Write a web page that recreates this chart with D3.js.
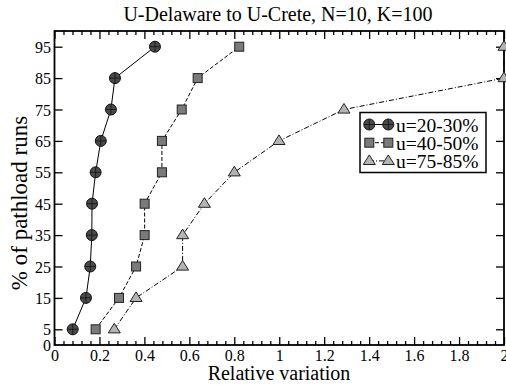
<!DOCTYPE html>
<html><head><meta charset="utf-8">
<script src="https://cdn.jsdelivr.net/npm/d3@7"></script>
<style>
html,body{margin:0;padding:0;background:#fff;}
</style></head>
<body>
<svg id="c" width="506" height="385"></svg>
<script>
const percentiles = [5, 15, 25, 35, 45, 55, 65, 75, 85, 95];
const seriesNames = ["u=20-30%", "u=40-50%", "u=75-85%"];
const u20_30 = [0.081, 0.140, 0.159, 0.166, 0.167, 0.183, 0.206, 0.251, 0.269, 0.447];
const u40_50 = [0.183, 0.287, 0.363, 0.401, 0.401, 0.478, 0.478, 0.566, 0.637, 0.822];
const u75_85 = [0.266, 0.363, 0.570, 0.570, 0.667, 0.800, 0.999, 1.288, 2.0, 2.0];
const xTickLabels = ["0", "0.2", "0.4", "0.6", "0.8", "1", "1.2", "1.4", "1.6", "1.8", "2"];
const yTickLabels = ["0", "5", "15", "25", "35", "45", "55", "65", "75", "85", "95"];

const FONT = "'Liberation Serif'";
const svg = d3.select("#c");
const L = 54.5, R = 504, T = 31, B = 345;
const x = d3.scaleLinear().domain([0, 2]).range([L, R]);
const y = d3.scaleLinear().domain([0, 100]).range([B, T]);

// title
svg.append("text").attr("x", 278).attr("y", 20.5).attr("text-anchor", "middle")
  .style("font-family", FONT).style("font-size", "20px").text("U-Delaware to U-Crete, N=10, K=100");

// axes ticks
const xMajor = xTickLabels.map(Number);
const xMinor = d3.range(0, 2.0001, 0.04).filter(v => Math.abs(Math.round(v * 5) - v * 5) > 1e-6);
const yMajor = yTickLabels.map(Number).filter(v => v > 0);

const gB = svg.append("g").attr("transform", `translate(0,${B})`)
  .call(d3.axisBottom(x).tickValues(xMajor).tickSizeInner(-8).tickSizeOuter(0).tickPadding(5)
    .tickFormat((d, i) => xTickLabels[i]));
const gBm = svg.append("g").attr("transform", `translate(0,${B})`)
  .call(d3.axisBottom(x).tickValues(xMinor).tickSizeInner(-4).tickSizeOuter(0).tickFormat(""));
const gT = svg.append("g").attr("transform", `translate(0,${T})`)
  .call(d3.axisTop(x).tickValues(xMajor).tickSizeInner(-8).tickSizeOuter(0).tickFormat(""));
const gTm = svg.append("g").attr("transform", `translate(0,${T})`)
  .call(d3.axisTop(x).tickValues(xMinor).tickSizeInner(-4).tickSizeOuter(0).tickFormat(""));
const gL = svg.append("g").attr("transform", `translate(${L},0)`)
  .call(d3.axisLeft(y).tickValues(yTickLabels.map(Number)).tickSizeInner(-8).tickSizeOuter(0).tickPadding(3.5)
    .tickFormat((d, i) => yTickLabels[i]));
const gR = svg.append("g").attr("transform", `translate(${R},0)`)
  .call(d3.axisRight(y).tickValues(yMajor).tickSizeInner(-8).tickSizeOuter(0).tickFormat(""));

[gB, gBm, gT, gTm, gL, gR].forEach(g => {
  g.attr("font-family", null).attr("font-size", null);
  g.select(".domain").remove();
  g.selectAll(".tick line").attr("stroke", "#000").attr("stroke-width", 1.3);
  g.selectAll("text").style("font-family", FONT).style("font-size", "16px").attr("fill", "#000");
});
gL.selectAll("text").attr("dy", "0.35em");
gL.selectAll(".tick").filter(d => d === 0).select("line").remove();
gB.selectAll("text").attr("dy", "0.71em");

// frame
svg.append("rect").attr("x", L).attr("y", T).attr("width", R - L).attr("height", B - T)
  .attr("fill", "none").attr("stroke", "#000").attr("stroke-width", 1.8);

// axis titles
svg.append("text").attr("x", 279).attr("y", 380).attr("text-anchor", "middle")
  .style("font-family", FONT).style("font-size", "20px").text("Relative variation");
svg.append("text").attr("transform", `translate(27,203) rotate(-90)`).attr("text-anchor", "middle")
  .style("font-family", FONT).style("font-size", "23px").text("% of pathload runs");

// series
const series = [
  {vals: u20_30, dash: null, shape: "circle"},
  {vals: u40_50, dash: "4,2", shape: "square"},
  {vals: u75_85, dash: "5,2,1,2", shape: "triangle"}
];

function drawMarker(g, shape, cx, cy) {
  if (shape === "circle") {
    g.append("circle").attr("cx", cx).attr("cy", cy).attr("r", 5.5)
      .attr("fill", "#4a4a4a").attr("stroke", "#111").attr("stroke-width", 1);
    g.append("line").attr("x1", cx - 5).attr("x2", cx + 5).attr("y1", cy).attr("y2", cy).attr("stroke", "#111").attr("stroke-width", 0.8);
    g.append("line").attr("x1", cx).attr("x2", cx).attr("y1", cy - 5).attr("y2", cy + 5).attr("stroke", "#111").attr("stroke-width", 0.8);
  } else if (shape === "square") {
    g.append("rect").attr("x", cx - 4.5).attr("y", cy - 4.5).attr("width", 9).attr("height", 9)
      .attr("fill", "#7a7a7a").attr("stroke", "#222").attr("stroke-width", 1);
  } else {
    const s = 6;
    g.append("path").attr("d", `M${cx},${cy - s}L${cx + s},${cy + s * 0.6}L${cx - s},${cy + s * 0.6}Z`)
      .attr("fill", "#b4b4b4").attr("stroke", "#222").attr("stroke-width", 1);
  }
}

const line = d3.line().x(d => x(d[0])).y(d => y(d[1]));
series.forEach(s => {
  const pts = s.vals.map((v, i) => [v, percentiles[i]]);
  svg.append("path").datum(pts).attr("d", line).attr("fill", "none").attr("stroke", "#000")
    .attr("stroke-width", 1).attr("stroke-dasharray", s.dash);
  const g = svg.append("g");
  pts.forEach(p => drawMarker(g, s.shape, x(p[0]), y(p[1])));
});

// legend
const lg = svg.append("g");
lg.append("rect").attr("x", 360).attr("y", 112.5).attr("width", 126).attr("height", 60)
  .attr("fill", "#fff").attr("stroke", "#000").attr("stroke-width", 1.5);
series.forEach((s, i) => {
  const ly = 124.5 + i * 18.2;
  lg.append("line").attr("x1", 369).attr("x2", 388).attr("y1", ly).attr("y2", ly)
    .attr("stroke", "#000").attr("stroke-width", 1).attr("stroke-dasharray", s.dash);
  drawMarker(lg, s.shape, 369.3, ly);
  drawMarker(lg, s.shape, 388.3, ly);
  lg.append("text").attr("x", 396).attr("y", ly + 7.2)
    .style("font-family", FONT).style("font-size", "19.5px")
    .text(seriesNames[i]);
});
</script>
</body></html>
